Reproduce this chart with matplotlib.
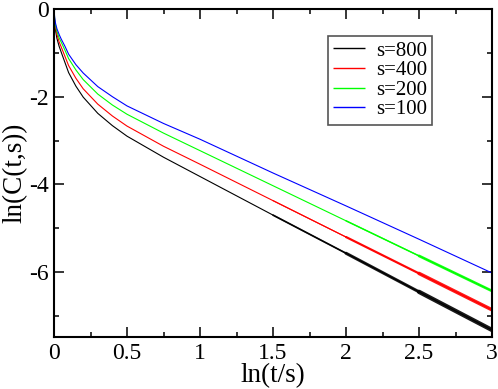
import matplotlib
matplotlib.use("Agg")
import matplotlib.pyplot as plt
from matplotlib.ticker import MultipleLocator, FormatStrFormatter

plt.rcParams['font.family'] = ['Liberation Serif', 'DejaVu Serif']
plt.rcParams['axes.unicode_minus'] = False

labels = ["s=800", "s=400", "s=200", "s=100"]
colors = ["#000000", "#ff0000", "#00ff00", "#0000ff"]

x_pts = [0, 0.005, 0.01, 0.02, 0.035, 0.05, 0.075, 0.1, 0.15, 0.2, 0.3, 0.4, 0.5,
         0.75, 1.0, 1.5, 2.0, 2.5, 3.0]

y_800 = [0, -0.34, -0.48, -0.67, -0.85, -0.99, -1.22, -1.45, -1.76, -2.01, -2.38, -2.66,
         -2.90, -3.38, -3.82, -4.70, -5.57, -6.45, -7.32]
y_400 = [0, -0.29, -0.41, -0.58, -0.75, -0.87, -1.08, -1.29, -1.58, -1.82, -2.17, -2.44,
         -2.67, -3.13, -3.54, -4.37, -5.20, -6.03, -6.86]
y_200 = [0, -0.25, -0.36, -0.51, -0.66, -0.76, -0.94, -1.13, -1.39, -1.61, -1.94, -2.19,
         -2.40, -2.83, -3.23, -4.03, -4.83, -5.63, -6.43]
y_100 = [0, -0.21, -0.32, -0.45, -0.58, -0.69, -0.85, -1.03, -1.27, -1.46, -1.77, -2.00,
         -2.21, -2.61, -2.97, -3.74, -4.49, -5.25, -6.02]

series_y = [y_800, y_400, y_200, y_100]
# visual thickening of the noisy tail (style only)
tail_width = [2.8, 2.2, 1.6, 0.0]
tail_start = [1.5, 1.8, 2.1, 3.0]

fig = plt.figure(figsize=(4.98, 3.89), dpi=100)
ax = fig.add_axes([54/498, 1-337/389, (492-54)/498, (337-9)/389])

for ys, c, lab, tw, ts in zip(series_y, colors, labels, tail_width, tail_start):
    ax.plot(x_pts, ys, color=c, lw=0.8, label=lab, solid_capstyle='butt')
    if tw > 0:
        for i in range(len(x_pts) - 1):
            xm = 0.5 * (x_pts[i] + x_pts[i+1])
            if x_pts[i+1] > ts:
                frac = max(0.0, (xm - ts) / (3.0 - ts))
                ax.plot(x_pts[i:i+2], ys[i:i+2], color=c,
                        lw=0.8 + tw * frac, solid_capstyle='round', alpha=0.9)

ax.set_xlim(0, 3)
ax.set_ylim(-7.48, 0)
ax.xaxis.set_major_locator(MultipleLocator(0.5))
ax.xaxis.set_minor_locator(MultipleLocator(0.25))
ax.yaxis.set_major_locator(MultipleLocator(2))
ax.yaxis.set_minor_locator(MultipleLocator(1))
ax.xaxis.set_major_formatter(FormatStrFormatter('%g'))
ax.yaxis.set_major_formatter(FormatStrFormatter('%g'))
ax.tick_params(which='both', direction='in', top=True, right=True, width=1.1, labelsize=17)
ax.tick_params(which='major', length=7.5, pad=4)
ax.tick_params(which='minor', length=3.8)
for sp in ax.spines.values():
    sp.set_linewidth(1.5)

ax.set_xlabel("ln(t/s)", fontsize=19.5, labelpad=0)
ax.set_ylabel("ln(C(t,s))", fontsize=19.5, labelpad=1)

leg = ax.legend(loc='upper left', bbox_to_anchor=(0.626, 0.918), borderaxespad=0,
                fontsize=15, fancybox=False, framealpha=1, edgecolor='#555555',
                handlelength=1.5, handletextpad=0.55, labelspacing=0.0,
                borderpad=0.25)
leg.get_frame().set_linewidth(1.2)
for h in leg.get_lines():
    h.set_linewidth(1.0)

fig.savefig("out.png", dpi=100)
